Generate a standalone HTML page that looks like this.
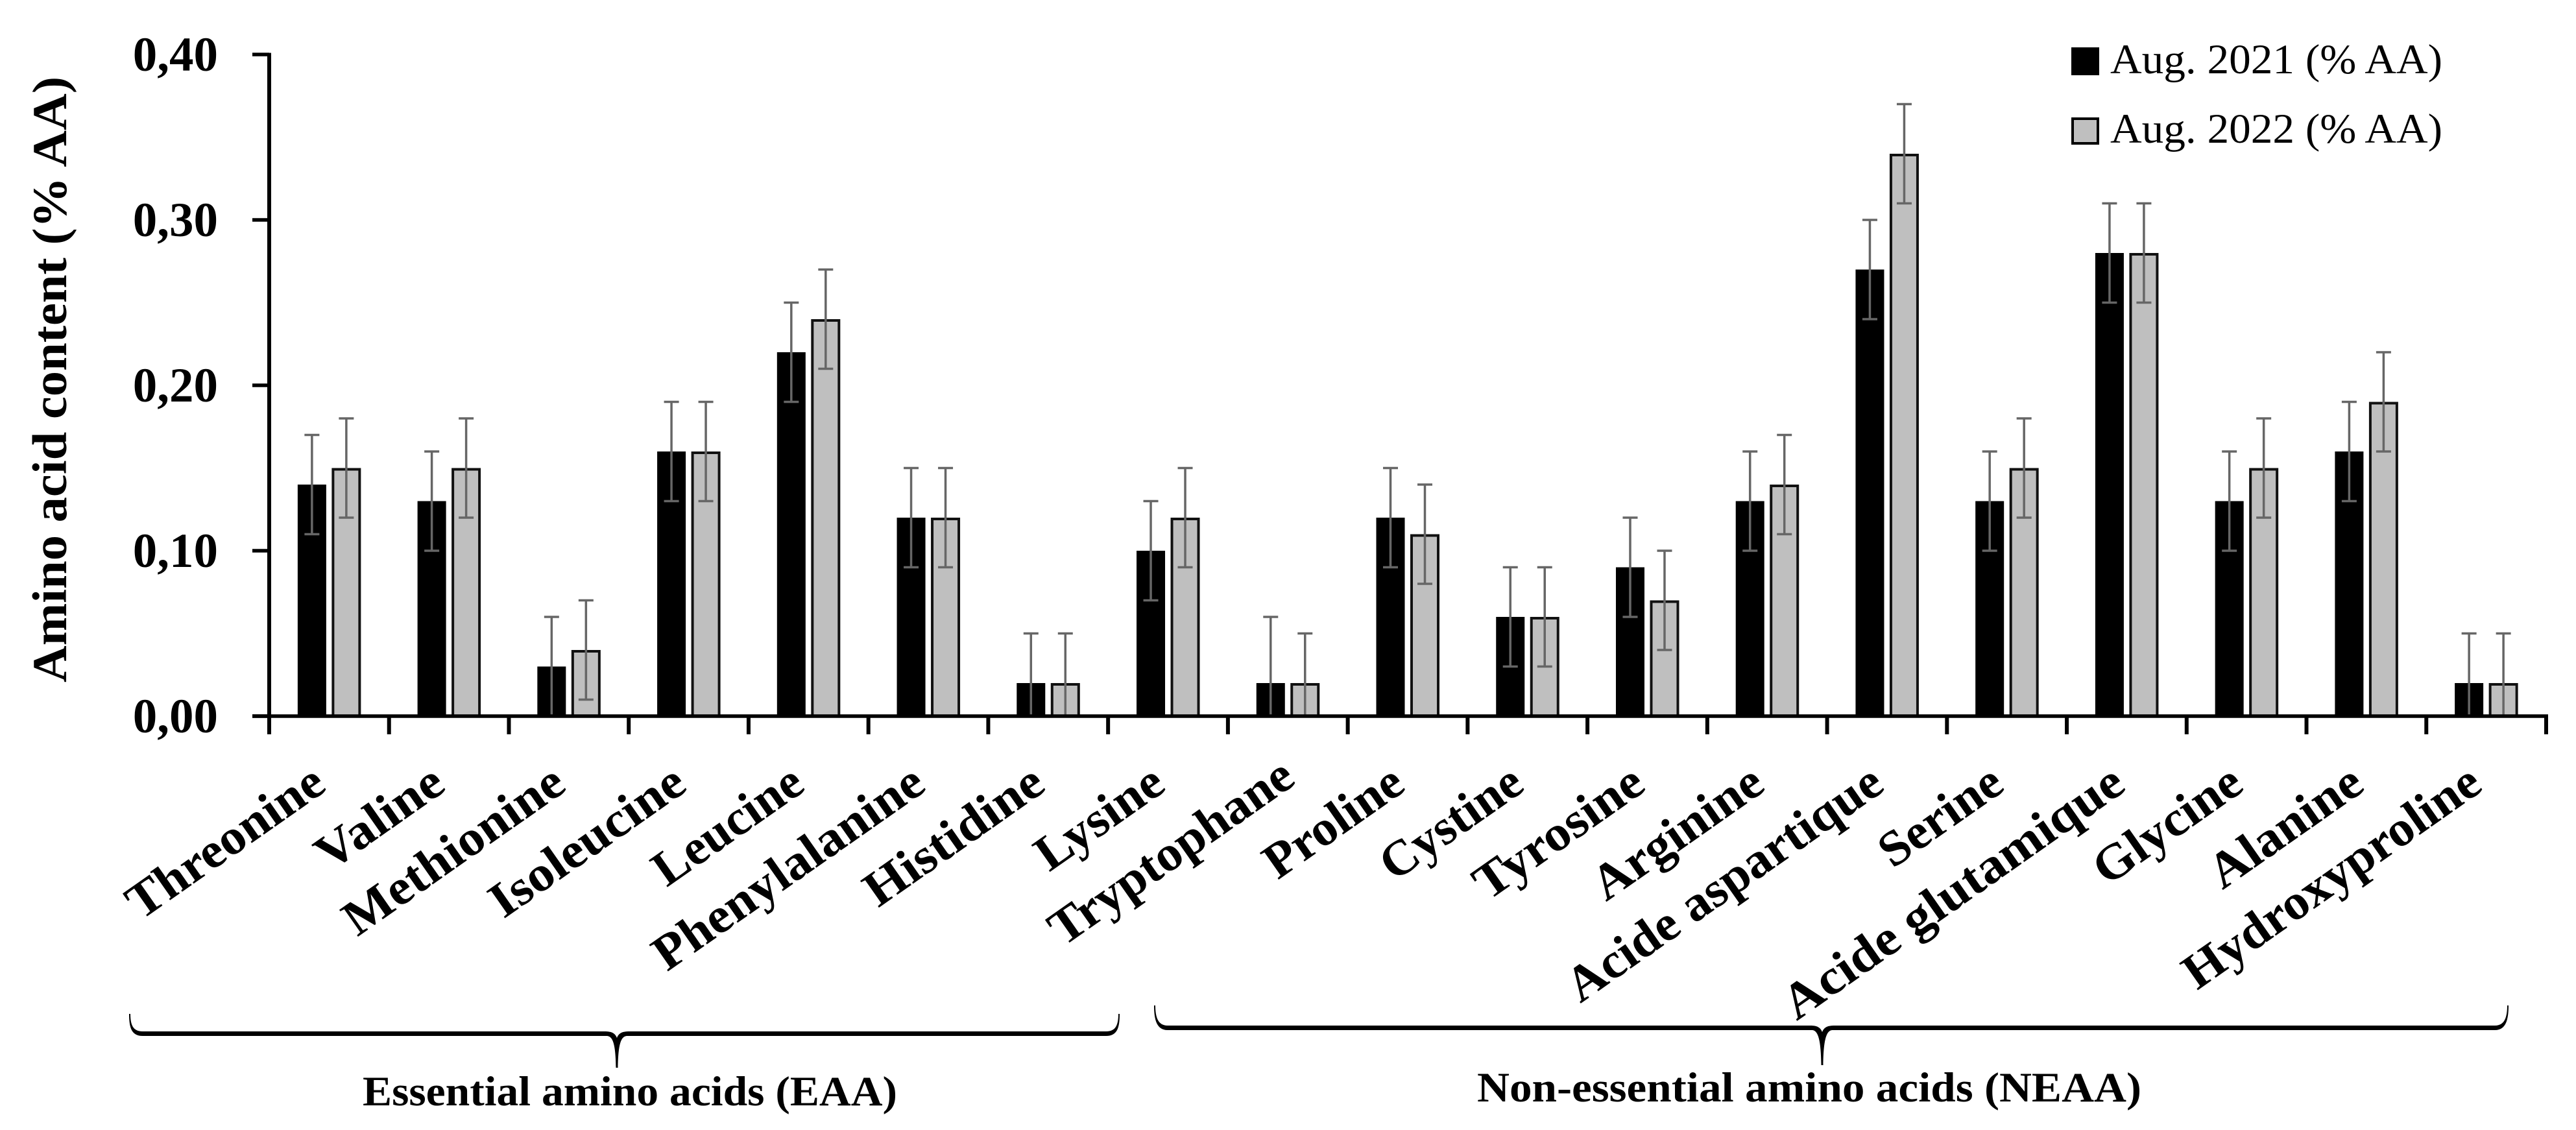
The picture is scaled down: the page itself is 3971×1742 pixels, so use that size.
<!DOCTYPE html>
<html lang="en">
<head>
<meta charset="utf-8">
<title>Amino acid content</title>
<style>
html,body{margin:0;padding:0;background:#fff;}
svg{display:block;}
text{font-family:"Liberation Serif","DejaVu Serif",serif;fill:#000;}
.cat{font-size:77px;font-weight:700;text-anchor:end;}
</style>
</head>
<body>
<svg id="chart" xmlns="http://www.w3.org/2000/svg" width="3971" height="1742" viewBox="0 0 3971 1742">
<rect x="0" y="0" width="3971" height="1742" fill="#fff"/>
<g id="marks"></g>
<g id="axes"></g>
<g>
<text class="cat" transform="translate(506,1217) rotate(-35)" textLength="353" lengthAdjust="spacingAndGlyphs">Threonine</text>
<text class="cat" transform="translate(690,1217) rotate(-35)" textLength="222" lengthAdjust="spacingAndGlyphs">Valine</text>
<text class="cat" transform="translate(876,1217) rotate(-35)" textLength="397" lengthAdjust="spacingAndGlyphs">Methionine</text>
<text class="cat" transform="translate(1062,1217) rotate(-35)" textLength="349" lengthAdjust="spacingAndGlyphs">Isoleucine</text>
<text class="cat" transform="translate(1244,1217) rotate(-35)" textLength="264" lengthAdjust="spacingAndGlyphs">Leucine</text>
<text class="cat" transform="translate(1430.5,1217) rotate(-35)" textLength="491" lengthAdjust="spacingAndGlyphs">Phenylalanine</text>
<text class="cat" transform="translate(1615,1217) rotate(-35)" textLength="319" lengthAdjust="spacingAndGlyphs">Histidine</text>
<text class="cat" transform="translate(1800,1217) rotate(-35)" textLength="223" lengthAdjust="spacingAndGlyphs">Lysine</text>
<text class="cat" transform="translate(2000,1207) rotate(-35)" textLength="441" lengthAdjust="spacingAndGlyphs">Tryptophane</text>
<text class="cat" transform="translate(2169.5,1217) rotate(-35)" textLength="244" lengthAdjust="spacingAndGlyphs">Proline</text>
<text class="cat" transform="translate(2353,1217) rotate(-35)" textLength="249" lengthAdjust="spacingAndGlyphs">Cystine</text>
<text class="cat" transform="translate(2540,1217) rotate(-35)" textLength="301" lengthAdjust="spacingAndGlyphs">Tyrosine</text>
<text class="cat" transform="translate(2724,1217) rotate(-35)" textLength="303" lengthAdjust="spacingAndGlyphs">Arginine</text>
<text class="cat" transform="translate(2908,1217) rotate(-35)" textLength="576" lengthAdjust="spacingAndGlyphs">Acide aspartique</text>
<text class="cat" transform="translate(3093,1217) rotate(-35)" textLength="214" lengthAdjust="spacingAndGlyphs">Serine</text>
<text class="cat" transform="translate(3280,1217) rotate(-35)" textLength="623" lengthAdjust="spacingAndGlyphs">Acide glutamique</text>
<text class="cat" transform="translate(3462,1217) rotate(-35)" textLength="261" lengthAdjust="spacingAndGlyphs">Glycine</text>
<text class="cat" transform="translate(3648,1217) rotate(-35)" textLength="271" lengthAdjust="spacingAndGlyphs">Alanine</text>
<text class="cat" transform="translate(3830,1217) rotate(-35)" textLength="541" lengthAdjust="spacingAndGlyphs">Hydroxyproline</text>
</g>
<text transform="translate(102,1052) rotate(-90)" font-size="75" font-weight="700" textLength="934" lengthAdjust="spacingAndGlyphs">Amino acid content (% AA)</text>
<g>
<rect x="3194" y="74" width="41" height="41" fill="#000" stroke="#000" stroke-width="2"/>
<text x="3253" y="113" font-size="65" textLength="512" lengthAdjust="spacingAndGlyphs">Aug. 2021 (% AA)</text>
<rect x="3195" y="183" width="39" height="38" fill="#bfbfbf" stroke="#000" stroke-width="4"/>
<text x="3253" y="220" font-size="65" textLength="512" lengthAdjust="spacingAndGlyphs">Aug. 2022 (% AA)</text>
</g>
<path fill="#000" d="M199,1563 C199,1585 203,1597 220,1597 L935,1597 C945,1597 949,1610 949.5,1646 L952.5,1646 C953,1610 957,1597 967,1597 L1705,1597 C1722,1597 1726,1585 1726,1563 L1724,1563 C1724,1580 1720,1590 1705,1590 L970,1590 C960,1590 954,1592 951,1600 C948,1592 942,1590 932,1590 L220,1590 C205,1590 201,1580 201,1563 Z"/>
<text x="559" y="1704" font-size="65" font-weight="700" textLength="824" lengthAdjust="spacingAndGlyphs">Essential amino acids (EAA)</text>
<path fill="#000" d="M1779,1550 C1779,1572 1783,1588 1800,1588 L2793,1588 C2803,1588 2807,1604 2807.5,1642 L2810.5,1642 C2811,1604 2815,1588 2825,1588 L3846,1588 C3863,1588 3867,1572 3867,1550 L3865,1550 C3865,1568 3861,1581 3846,1581 L2828,1581 C2818,1581 2812,1583 2809,1591 C2806,1583 2800,1581 2790,1581 L1800,1581 C1785,1581 1781,1568 1781,1550 Z"/>
<text x="2277" y="1698" font-size="65" font-weight="700" textLength="1024" lengthAdjust="spacingAndGlyphs">Non-essential amino acids (NEAA)</text>
</svg>
<script>
const categories = ["Threonine","Valine","Methionine","Isoleucine","Leucine","Phenylalanine","Histidine","Lysine","Tryptophane","Proline","Cystine","Tyrosine","Arginine","Acide aspartique","Serine","Acide glutamique","Glycine","Alanine","Hydroxyproline"];
const values2021 = [0.14,0.13,0.03,0.16,0.22,0.12,0.02,0.10,0.02,0.12,0.06,0.09,0.13,0.27,0.13,0.28,0.13,0.16,0.02];
const values2022 = [0.15,0.15,0.04,0.16,0.24,0.12,0.02,0.12,0.02,0.11,0.06,0.07,0.14,0.34,0.15,0.28,0.15,0.19,0.02];
const errors2021 = [0.03,0.03,0.03,0.03,0.03,0.03,0.03,0.03,0.04,0.03,0.03,0.03,0.03,0.03,0.03,0.03,0.03,0.03,0.03];
const errors2022 = [0.03,0.03,0.03,0.03,0.03,0.03,0.03,0.03,0.03,0.03,0.03,0.03,0.03,0.03,0.03,0.03,0.03,0.03,0.03];
const yTickValues = [0,0.1,0.2,0.3,0.4];
const yTickLabels = ["0,00","0,10","0,20","0,30","0,40"];

const NS = "http://www.w3.org/2000/svg";
const plotLeft = 415, plotRight = 3925, plotBottom = 1104, plotTop = 84;
const step = (plotRight - plotLeft) / categories.length;
const yScale = v => plotBottom - (v / 0.4) * (plotBottom - plotTop);
const xBand = i => plotLeft + (i + 0.5) * step;
const marks = document.getElementById("marks");
const axes = document.getElementById("axes");

function make(parent, tag, attrs) {
  const el = document.createElementNS(NS, tag);
  for (const k in attrs) el.setAttribute(k, attrs[k]);
  parent.appendChild(el);
  return el;
}

function drawBar(i, value, offset, fill, stroke, sw) {
  const cx = xBand(i) + offset;
  const y = yScale(value);
  const bar = make(marks, "rect", {x: cx - 20.5, y: y + sw / 2, width: 41, height: plotBottom - y - sw / 2, fill: fill, stroke: stroke, "stroke-width": sw});
  
  
}

function drawError(i, value, err, offset) {
  const cx = xBand(i) + offset;
  const hi = yScale(value + err);
  const lowVal = value - err;
  const lo = yScale(Math.max(lowVal, 0));
  const g = make(marks, "g", {stroke: "#666", "stroke-width": 3.5, fill: "none"});
  
  
  make(g, "line", {x1: cx, x2: cx, y1: hi, y2: lo});
  make(g, "line", {x1: cx - 11.5, x2: cx + 11.5, y1: hi, y2: hi});
  if (lowVal > 0.001) make(g, "line", {x1: cx - 11.5, x2: cx + 11.5, y1: lo, y2: lo});
}

categories.forEach((name, i) => {
  drawBar(i, values2021[i], -26.5, "#000", "#000", 3);
  drawBar(i, values2022[i], 26.5, "#bfbfbf", "#111", 4);
  drawError(i, values2021[i], errors2021[i], -26.5);
  drawError(i, values2022[i], errors2022[i], 26.5);
});

const yAxisLine = make(axes, "line", {x1: plotLeft, x2: plotLeft, y1: plotTop - 2.5, y2: plotBottom + 2, stroke: "#000", "stroke-width": 6});


const xAxisLine = make(axes, "line", {x1: plotLeft - 26, x2: plotRight + 3, y1: plotBottom, y2: plotBottom, stroke: "#000", "stroke-width": 5.5});



yTickValues.forEach((v, i) => {
  const y = yScale(v);
  const tick = make(axes, "line", {x1: plotLeft - 26, x2: plotLeft, y1: y, y2: y, stroke: "#000", "stroke-width": 5.5});
  
  
  const label = make(axes, "text", {x: 336, y: y + 25, "font-size": 75, "font-weight": 700, "text-anchor": "end"});
  
  
  label.textContent = yTickLabels[i];
});

for (let i = 0; i <= categories.length; i++) {
  const x = plotLeft + i * step;
  const tick = make(axes, "line", {x1: x, x2: x, y1: plotBottom, y2: plotBottom + 28, stroke: "#000", "stroke-width": 6});
  
  
}
</script>
</body>
</html>
